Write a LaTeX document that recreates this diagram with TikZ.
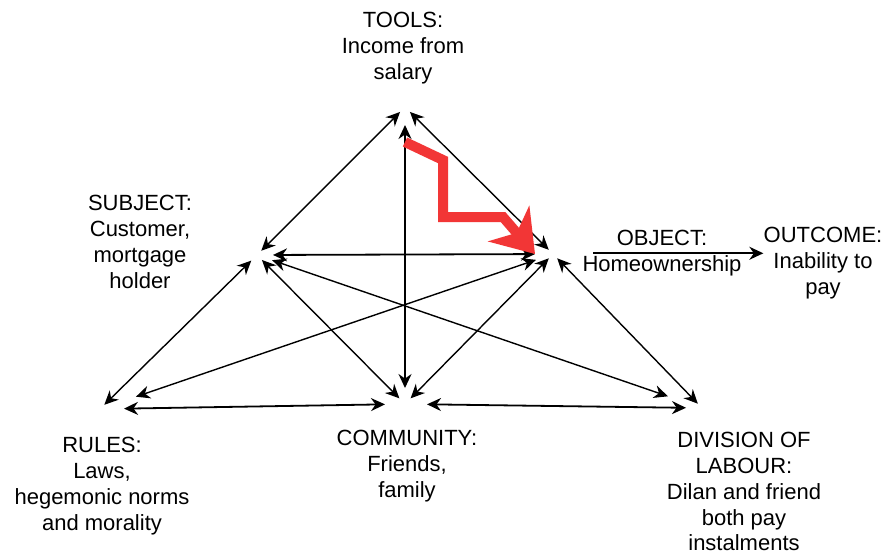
\documentclass[tikz,border=0pt]{standalone}
\usepackage{fontspec}
\setmainfont{Liberation Sans}
\usepackage{xcolor}
\usepackage{tikz}
\usetikzlibrary{arrows.meta,positioning,calc}

\definecolor{flowred}{RGB}{242,54,54}

\begin{document}
\begin{tikzpicture}[
    x=0.5pt, y=-0.5pt,
    >={Stealth[length=7pt,width=6.5pt]},
    lbl/.style={align=center, inner sep=0pt, anchor=north, font=\fontsize{11}{12.9}\selectfont},
    both/.style={draw, line width=0.7pt, <->},
    line/.style={draw, line width=0.8pt, ->},
    redflow/.style={draw=flowred, line width=5pt, line join=miter, -{Stealth[length=20pt,width=27pt,inset=6pt]}}
]
\useasboundingbox (0,0) rectangle (886,554);

% corners of the triangle
\coordinate (T) at (405,107);
\coordinate (S) at (257,255);
\coordinate (O) at (553,254);
\coordinate (R) at (100,409);
\coordinate (C) at (405,404);
\coordinate (D) at (702,408);

% labels
\node [lbl] (tools) at (403,12) {TOOLS:\\Income from\\salary};
\node [lbl] (subject) at (140,195) {SUBJECT:\\Customer,\\mortgage\\holder};
\node [lbl] (object) at (662,230) {OBJECT:\\Homeownership};
\node [lbl] (outcome) at (823,227) {OUTCOME:\\Inability to\\pay};
\node [lbl] (rules) at (102,437) {RULES:\\Laws,\\hegemonic norms\\and morality};
\node [lbl] (community) at (407,430) {COMMUNITY:\\Friends,\\family};
\node [lbl] (division) at (744,432) {DIVISION OF\\LABOUR:\\Dilan and friend\\both pay\\instalments};

% mediating triangle
\path [both, shorten <=3pt, shorten >=3.5pt] (S) -- (T);
\path [both, shorten <=3.5pt, shorten >=3pt] (T) -- (O);
\path [both, shorten <=9pt, shorten >=8pt] (T) -- (C);
\path [both, line width=0.9pt, shorten <=8pt, shorten >=9pt] (S) -- (O);
\path [both, shorten <=4pt, shorten >=3pt] (S) -- (R);
\path [both, shorten <=3.5pt, shorten >=4pt] (S) -- (C);
\path [both, shorten <=8pt, shorten >=18pt] (S) -- (D);
\path [both, shorten <=9pt, shorten >=19pt] (O) -- (R);
\path [both, shorten <=3pt, shorten >=4pt] (O) -- (C);
\path [both, shorten <=3pt, shorten >=3pt] (O) -- (D);
\path [both, line width=0.9pt, shorten <=12pt, shorten >=10pt] (R) -- (C);
\path [both, line width=0.9pt, shorten <=11pt, shorten >=8pt] (C) -- (D);

% object to outcome
\coordinate (oa) at ($(object.west)+(11,0)$);
\path [line] (oa) -- (oa -| outcome.west);

% contradiction
\path [redflow] (T) ++(0,35) -- ++(38,18) -- ++(0,57) -- ++(60,0) -- ($(O)+(-18,0)$);

\end{tikzpicture}
\end{document}
